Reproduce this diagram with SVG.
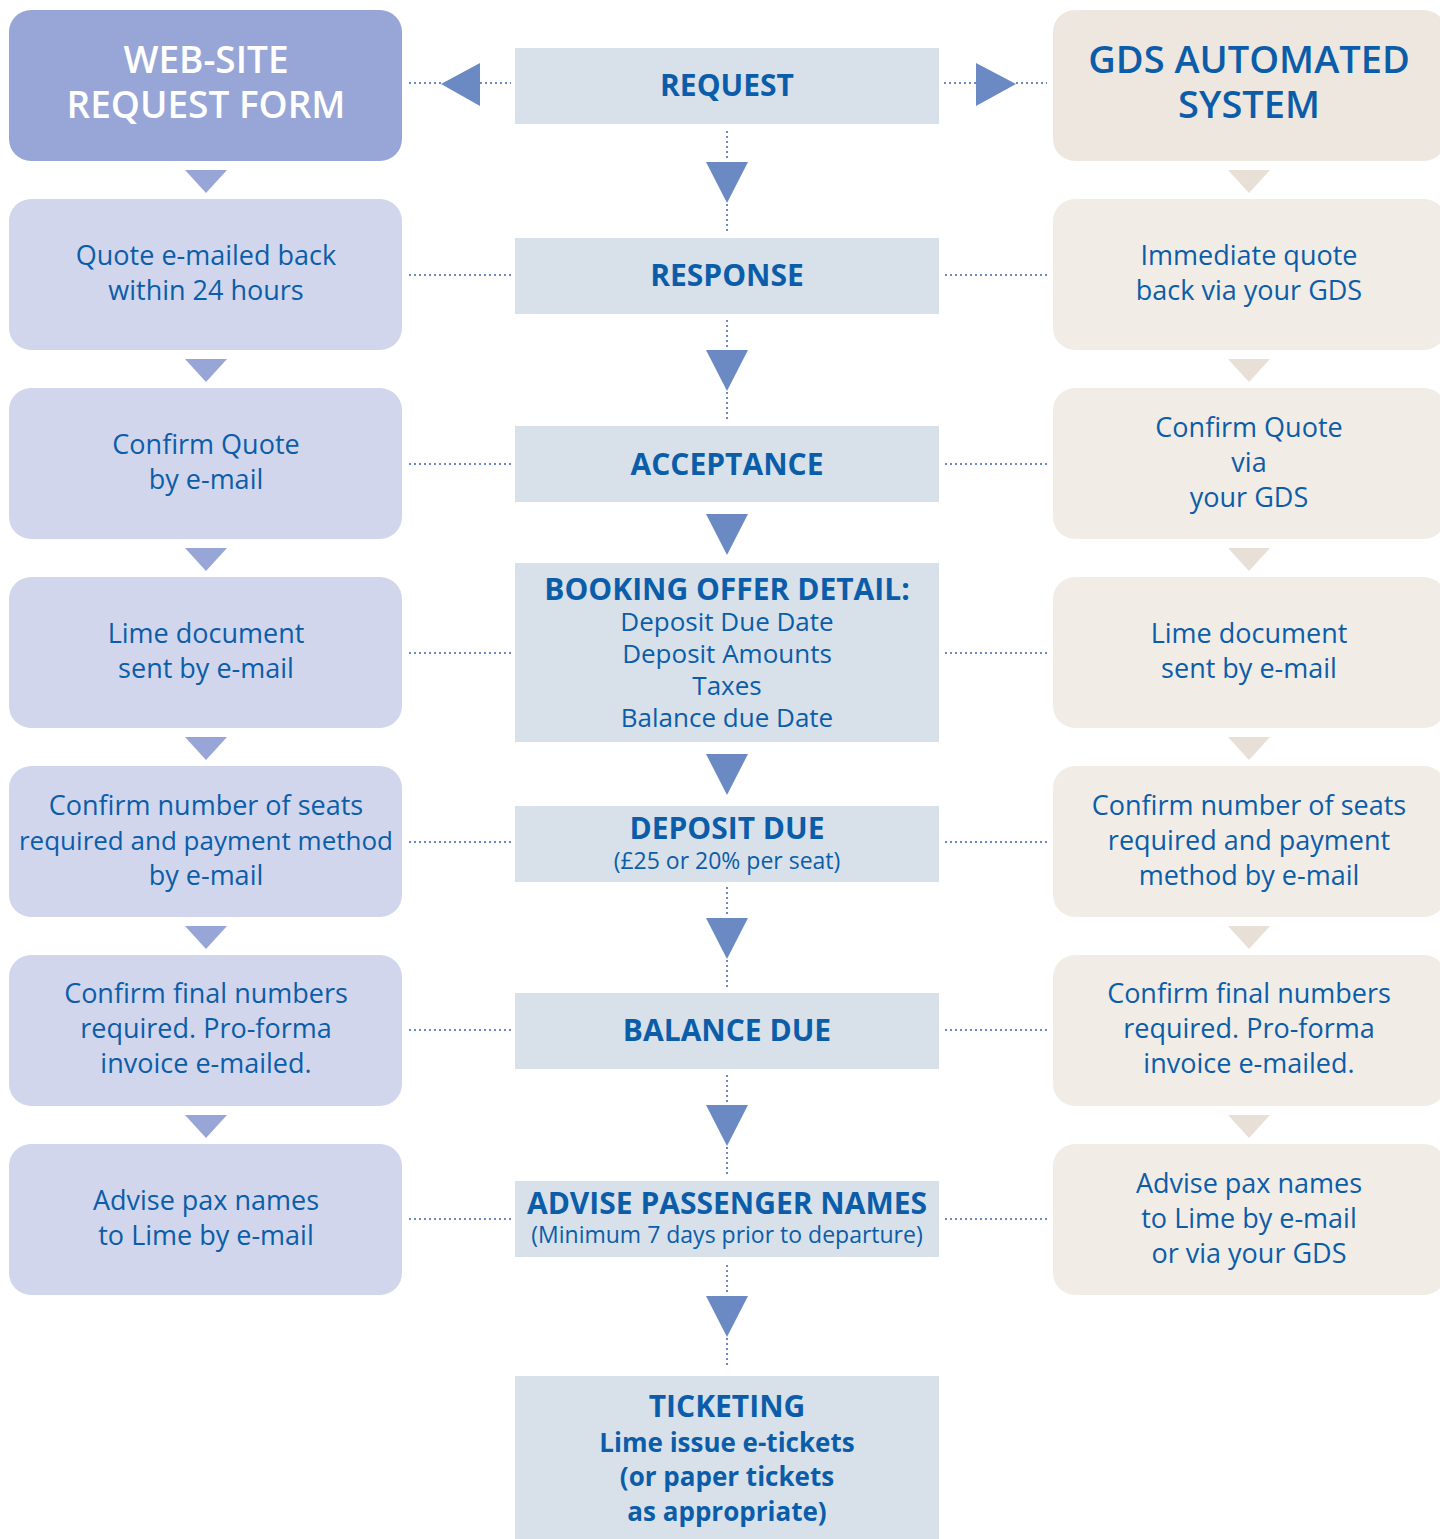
<svg xmlns="http://www.w3.org/2000/svg" width="1440" height="1539" viewBox="0 0 1440 1539">
<style>
text{font-family:"Open Sans","Noto Sans","DejaVu Sans",sans-serif;text-anchor:middle;fill:#0B5DA9}
.lh{fill:#97A6D6}
.lb{fill:#D1D6EC}
.rh{fill:#EEE7E0}
.rb{fill:#F1ECE6}
.cb{fill:#D8E1E9}
.t{font-size:27px}
.hd{font-size:37px;font-weight:600}
.cl{font-size:30px;font-weight:700}
.cs{font-size:23px}
.tk{font-size:26px;font-weight:700}
.dot{stroke:#6B8AC4;stroke-width:2;stroke-dasharray:2 3;fill:none}
.ca{fill:#6B8AC4}
.la{fill:#97A6D6}
.ra{fill:#E8DFD6}
</style>
<g id="connectors">
<path class="dot" d="M409 83H441M480 83H511M944 83H976M1016 83H1047"/>
<path class="dot" d="M409 275H511M945 275H1047M409 464H511M945 464H1047M409 653H511M945 653H1047M409 842H511M945 842H1047M409 1030H511M945 1030H1047M409 1219H511M945 1219H1047"/>
<path class="dot" d="M727 131V160M727 204V234M727 320V348M727 392V421M727 887V916M727 960V990M727 1075V1103M727 1147V1177M727 1265V1294M727 1338V1368"/>
<polygon class="ca" points="441,84 480,63 480,106"/>
<polygon class="ca" points="1016,84 976,63 976,106"/>
<polygon class="ca" points="706,162 748,162 727,203"/>
<polygon class="ca" points="706,350 748,350 727,391"/>
<polygon class="ca" points="706,514 748,514 727,555"/>
<polygon class="ca" points="706,754 748,754 727,795"/>
<polygon class="ca" points="706,918 748,918 727,959"/>
<polygon class="ca" points="706,1105 748,1105 727,1146"/>
<polygon class="ca" points="706,1296 748,1296 727,1337"/>
<polygon class="la" points="185,170 227,170 206,193"/>
<polygon class="la" points="185,359 227,359 206,382"/>
<polygon class="la" points="185,548 227,548 206,571"/>
<polygon class="la" points="185,737 227,737 206,760"/>
<polygon class="la" points="185,926 227,926 206,949"/>
<polygon class="la" points="185,1115 227,1115 206,1138"/>
<polygon class="ra" points="1228,170 1270,170 1249,193"/>
<polygon class="ra" points="1228,359 1270,359 1249,382"/>
<polygon class="ra" points="1228,548 1270,548 1249,571"/>
<polygon class="ra" points="1228,737 1270,737 1249,760"/>
<polygon class="ra" points="1228,926 1270,926 1249,949"/>
<polygon class="ra" points="1228,1115 1270,1115 1249,1138"/>
</g>
<g id="web-header"><rect class="lh" x="9" y="10" width="393" height="151" rx="22"/><text class="hd" style="fill:#fff" x="206" y="73">WEB-SITE</text><text class="hd" style="fill:#fff" x="206" y="118">REQUEST FORM</text></g>
<g id="web-1"><rect class="lb" x="9" y="199" width="393" height="151" rx="22"/><text class="t" x="206" y="265">Quote e-mailed back</text><text class="t" x="206" y="300">within 24 hours</text></g>
<g id="web-2"><rect class="lb" x="9" y="388" width="393" height="151" rx="22"/><text class="t" x="206" y="454">Confirm Quote</text><text class="t" x="206" y="489">by e-mail</text></g>
<g id="web-3"><rect class="lb" x="9" y="577" width="393" height="151" rx="22"/><text class="t" x="206" y="643">Lime document</text><text class="t" x="206" y="678">sent by e-mail</text></g>
<g id="web-4"><rect class="lb" x="9" y="766" width="393" height="151" rx="22"/><text class="t" x="206" y="815">Confirm number of seats</text><text class="t" style="font-size:26px" x="206" y="850">required and payment method</text><text class="t" x="206" y="885">by e-mail</text></g>
<g id="web-5"><rect class="lb" x="9" y="955" width="393" height="151" rx="22"/><text class="t" x="206" y="1003">Confirm final numbers</text><text class="t" x="206" y="1038">required. Pro-forma</text><text class="t" x="206" y="1073">invoice e-mailed.</text></g>
<g id="web-6"><rect class="lb" x="9" y="1144" width="393" height="151" rx="22"/><text class="t" x="206" y="1210">Advise pax names</text><text class="t" x="206" y="1245">to Lime by e-mail</text></g>
<g id="gds-header"><rect class="rh" x="1053" y="10" width="393" height="151" rx="22"/><text class="hd" style="font-size:38px" x="1249" y="73">GDS AUTOMATED</text><text class="hd" style="font-size:38px" x="1249" y="118">SYSTEM</text></g>
<g id="gds-1"><rect class="rb" x="1053" y="199" width="393" height="151" rx="22"/><text class="t" x="1249" y="265">Immediate quote</text><text class="t" x="1249" y="300">back via your GDS</text></g>
<g id="gds-2"><rect class="rb" x="1053" y="388" width="393" height="151" rx="22"/><text class="t" x="1249" y="437">Confirm Quote</text><text class="t" x="1249" y="472">via</text><text class="t" x="1249" y="507">your GDS</text></g>
<g id="gds-3"><rect class="rb" x="1053" y="577" width="393" height="151" rx="22"/><text class="t" x="1249" y="643">Lime document</text><text class="t" x="1249" y="678">sent by e-mail</text></g>
<g id="gds-4"><rect class="rb" x="1053" y="766" width="393" height="151" rx="22"/><text class="t" x="1249" y="815">Confirm number of seats</text><text class="t" x="1249" y="850">required and payment</text><text class="t" x="1249" y="885">method by e-mail</text></g>
<g id="gds-5"><rect class="rb" x="1053" y="955" width="393" height="151" rx="22"/><text class="t" x="1249" y="1003">Confirm final numbers</text><text class="t" x="1249" y="1038">required. Pro-forma</text><text class="t" x="1249" y="1073">invoice e-mailed.</text></g>
<g id="gds-6"><rect class="rb" x="1053" y="1144" width="393" height="151" rx="22"/><text class="t" x="1249" y="1193">Advise pax names</text><text class="t" x="1249" y="1228">to Lime by e-mail</text><text class="t" x="1249" y="1263">or via your GDS</text></g>
<g id="request"><rect class="cb" x="515" y="48" width="424" height="76"/><text class="cl" x="727" y="96">REQUEST</text></g>
<g id="response"><rect class="cb" x="515" y="238" width="424" height="76"/><text class="cl" x="727" y="286">RESPONSE</text></g>
<g id="acceptance"><rect class="cb" x="515" y="426" width="424" height="76"/><text class="cl" x="727" y="475">ACCEPTANCE</text></g>
<g id="booking-offer"><rect class="cb" x="515" y="563" width="424" height="179"/><text class="cl" x="727" y="600">BOOKING OFFER DETAIL:</text><text class="t" style="font-size:26px" x="727" y="631">Deposit Due Date</text><text class="t" style="font-size:26px" x="727" y="663">Deposit Amounts</text><text class="t" style="font-size:26px" x="727" y="695">Taxes</text><text class="t" style="font-size:26px" x="727" y="727">Balance due Date</text></g>
<g id="deposit-due"><rect class="cb" x="515" y="806" width="424" height="76"/><text class="cl" x="727" y="839">DEPOSIT DUE</text><text class="cs" x="727" y="869">(£25 or 20% per seat)</text></g>
<g id="balance-due"><rect class="cb" x="515" y="993" width="424" height="76"/><text class="cl" x="727" y="1041">BALANCE DUE</text></g>
<g id="advise-names"><rect class="cb" x="515" y="1181" width="424" height="76"/><text class="cl" x="727" y="1214">ADVISE PASSENGER NAMES</text><text class="cs" x="727" y="1243">(Minimum 7 days prior to departure)</text></g>
<g id="ticketing"><rect class="cb" x="515" y="1376" width="424" height="170"/><text class="cl" x="727" y="1417">TICKETING</text><text class="tk" x="727" y="1452">Lime issue e-tickets</text><text class="tk" x="727" y="1486">(or paper tickets</text><text class="tk" x="727" y="1521">as appropriate)</text></g>
</svg>
